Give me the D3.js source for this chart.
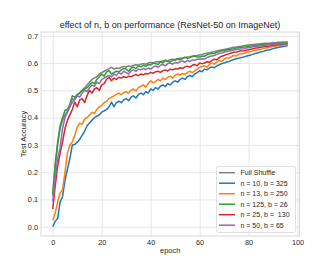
<!DOCTYPE html>
<html><head><meta charset="utf-8">
<script src="https://cdn.jsdelivr.net/npm/d3@7"></script>
<style>body{margin:0;background:#fff}svg{display:block}text{font-family:"Liberation Sans",Arial,sans-serif;fill:#262626}</style>
</head><body><svg id="c" width="332" height="266"></svg>
<script>
const title = "effect of n, b on performance (ResNet-50 on ImageNet)";
const xLabel = "epoch";
const yLabel = "Test Accuracy";
const xTicks = [0, 20, 40, 60, 80, 100];
const yTicks = [0.0, 0.1, 0.2, 0.3, 0.4, 0.5, 0.6, 0.7];
const seriesNames = ["Full Shuffle", "n = 10, b = 325", "n = 13, b = 250", "n = 125, b = 26", "n = 25, b =  130", "n = 50, b = 65"];
const seriesColors = ["#7f7f7f", "#1f77b4", "#ff7f0e", "#2ca02c", "#d62728", "#9467bd"];

const fullShuffle = [0.12,0.22,0.30,0.36,0.39,0.41,0.425,0.44,0.455,0.47,0.48,0.49,0.50,0.51,0.52,0.53,0.54,0.545,0.55,0.56,0.565,0.57,0.575,0.58,0.585,0.578,0.582,0.58,0.585,0.588,0.585,0.59,0.588,0.592,0.594,0.592,0.596,0.598,0.596,0.60,0.602,0.60,0.604,0.606,0.605,0.608,0.61,0.609,0.612,0.614,0.613,0.616,0.618,0.617,0.62,0.622,0.623,0.625,0.627,0.628,0.63,0.632,0.634,0.636,0.638,0.64,0.642,0.644,0.646,0.648,0.65,0.652,0.654,0.656,0.658,0.659,0.661,0.662,0.664,0.665,0.666,0.667,0.668,0.669,0.67,0.671,0.672,0.673,0.673,0.674,0.675,0.675,0.676,0.676,0.677,0.677,0.678];
const n10b325 = [0.0,0.02,0.03,0.09,0.11,0.17,0.21,0.25,0.30,0.302,0.31,0.32,0.335,0.35,0.37,0.38,0.39,0.40,0.405,0.41,0.42,0.425,0.43,0.44,0.457,0.44,0.455,0.46,0.455,0.465,0.47,0.462,0.475,0.48,0.472,0.485,0.49,0.484,0.495,0.49,0.505,0.50,0.51,0.505,0.515,0.52,0.514,0.525,0.52,0.53,0.535,0.53,0.54,0.545,0.54,0.55,0.555,0.55,0.56,0.565,0.572,0.568,0.578,0.575,0.582,0.586,0.583,0.59,0.594,0.598,0.60,0.604,0.606,0.61,0.613,0.616,0.618,0.62,0.622,0.625,0.628,0.63,0.633,0.636,0.638,0.641,0.643,0.646,0.648,0.65,0.653,0.655,0.657,0.659,0.661,0.662,0.664];
const n13b250 = [0.024,0.05,0.09,0.124,0.136,0.20,0.27,0.30,0.311,0.335,0.365,0.38,0.375,0.395,0.40,0.41,0.42,0.415,0.43,0.44,0.445,0.455,0.46,0.47,0.475,0.48,0.485,0.49,0.484,0.492,0.495,0.49,0.50,0.505,0.498,0.51,0.515,0.52,0.512,0.525,0.535,0.528,0.532,0.54,0.535,0.545,0.54,0.548,0.552,0.545,0.555,0.56,0.556,0.562,0.558,0.566,0.57,0.565,0.572,0.578,0.584,0.588,0.59,0.585,0.595,0.60,0.596,0.604,0.61,0.606,0.614,0.62,0.618,0.624,0.628,0.626,0.632,0.634,0.635,0.638,0.641,0.643,0.645,0.647,0.649,0.651,0.653,0.655,0.657,0.659,0.661,0.662,0.664,0.665,0.666,0.667,0.668];
const n125b26 = [0.115,0.23,0.31,0.37,0.40,0.427,0.43,0.45,0.48,0.475,0.485,0.49,0.50,0.505,0.51,0.52,0.53,0.525,0.54,0.55,0.56,0.552,0.568,0.572,0.56,0.565,0.57,0.568,0.575,0.58,0.578,0.57,0.582,0.585,0.58,0.59,0.586,0.592,0.588,0.595,0.593,0.60,0.598,0.595,0.605,0.60,0.61,0.606,0.604,0.612,0.61,0.615,0.612,0.618,0.622,0.617,0.62,0.624,0.626,0.622,0.622,0.626,0.625,0.63,0.633,0.636,0.635,0.64,0.642,0.645,0.646,0.648,0.65,0.652,0.653,0.655,0.656,0.658,0.659,0.66,0.662,0.663,0.664,0.665,0.666,0.667,0.668,0.669,0.67,0.67,0.671,0.672,0.672,0.673,0.674,0.674,0.675];
const n25b130 = [0.065,0.15,0.22,0.27,0.31,0.36,0.39,0.41,0.43,0.457,0.44,0.465,0.47,0.455,0.48,0.50,0.49,0.505,0.51,0.50,0.52,0.525,0.54,0.548,0.535,0.545,0.54,0.548,0.545,0.55,0.547,0.552,0.55,0.555,0.558,0.554,0.56,0.557,0.562,0.56,0.566,0.563,0.568,0.57,0.566,0.572,0.575,0.571,0.578,0.575,0.58,0.578,0.583,0.58,0.586,0.589,0.585,0.592,0.595,0.59,0.60,0.598,0.60,0.605,0.602,0.61,0.614,0.612,0.62,0.625,0.628,0.632,0.634,0.637,0.64,0.641,0.643,0.644,0.645,0.647,0.649,0.651,0.653,0.655,0.656,0.658,0.66,0.661,0.662,0.664,0.665,0.666,0.667,0.668,0.669,0.67,0.671];
const n50b65 = [0.093,0.18,0.25,0.29,0.36,0.40,0.42,0.44,0.47,0.465,0.48,0.475,0.49,0.50,0.495,0.51,0.52,0.515,0.53,0.525,0.54,0.545,0.55,0.555,0.55,0.56,0.555,0.565,0.56,0.57,0.565,0.56,0.572,0.575,0.57,0.578,0.575,0.58,0.576,0.582,0.578,0.585,0.59,0.584,0.592,0.595,0.59,0.598,0.60,0.596,0.602,0.60,0.605,0.608,0.603,0.61,0.606,0.612,0.61,0.614,0.614,0.616,0.615,0.62,0.624,0.626,0.628,0.632,0.635,0.637,0.64,0.642,0.644,0.646,0.648,0.65,0.651,0.652,0.653,0.655,0.657,0.658,0.66,0.661,0.662,0.663,0.664,0.665,0.666,0.667,0.668,0.669,0.67,0.671,0.671,0.672,0.673];

const seriesData = [fullShuffle, n10b325, n13b250, n125b26, n25b130, n50b65];

const svg = d3.select("#c");
const L = 41, R = 299.5, T = 32, B = 236;
const x = d3.scaleLinear().domain([-4.8, 100.8]).range([L, R]);
const y = d3.scaleLinear().domain([-0.034, 0.714]).range([B, T]);
const grid = "#e6e6e6";

svg.append("rect").attr("x", L).attr("y", T).attr("width", R - L).attr("height", B - T).attr("fill", "#fff");

const gx = svg.append("g").attr("transform", `translate(0,${B})`)
  .call(d3.axisBottom(x).tickValues(xTicks).tickSize(-(B - T)).tickPadding(4).tickFormat(d3.format("d")));
const gy = svg.append("g").attr("transform", `translate(${L},0)`)
  .call(d3.axisLeft(y).tickValues(yTicks).tickSize(-(R - L)).tickPadding(3).tickFormat(d3.format(".1f")));
[gx, gy].forEach(g => {
  g.select(".domain").remove();
  g.selectAll(".tick line").attr("stroke", grid).attr("stroke-width", 1);
  g.selectAll(".tick text").style("font-size", "7.3px").attr("fill", "#262626");
});

svg.append("rect").attr("x", L).attr("y", T).attr("width", R - L).attr("height", B - T)
  .attr("fill", "none").attr("stroke", "#d9d9d9").attr("stroke-width", 1);

const line = d3.line().x((d, i) => x(i)).y(d => y(d));
seriesData.forEach((s, k) => {
  svg.append("path").datum(s).attr("d", line)
    .attr("fill", "none").attr("stroke", seriesColors[k]).attr("stroke-width", 1.5)
    .attr("stroke-linejoin", "round");
});

svg.append("text").attr("x", 170).attr("y", 28).attr("text-anchor", "middle")
  .style("font-size", "9px").text(title);
svg.append("text").attr("x", (L + R) / 2).attr("y", 253).attr("text-anchor", "middle")
  .style("font-size", "7.5px").text(xLabel);
svg.append("text").attr("transform", `translate(26,${(T + B) / 2}) rotate(-90)`).attr("text-anchor", "middle")
  .style("font-size", "7.5px").text(yLabel);

// legend
const lg = svg.append("g");
lg.append("rect").attr("x", 216.5).attr("y", 166.5).attr("width", 79).attr("height", 66).attr("rx", 2)
  .attr("fill", "#fff").attr("fill-opacity", 0.85).attr("stroke", "#e0e0e0");
seriesNames.forEach((nm, i) => {
  const yy = 172.7 + i * 10.5;
  lg.append("line").attr("x1", 219).attr("x2", 235).attr("y1", yy).attr("y2", yy)
    .attr("stroke", seriesColors[i]).attr("stroke-width", 1.5);
  lg.append("text").attr("x", 240.5).attr("y", yy + 2.5).style("font-size", "7px")
    .style("white-space", "pre").attr("xml:space", "preserve").text(nm);
});
</script></body></html>
